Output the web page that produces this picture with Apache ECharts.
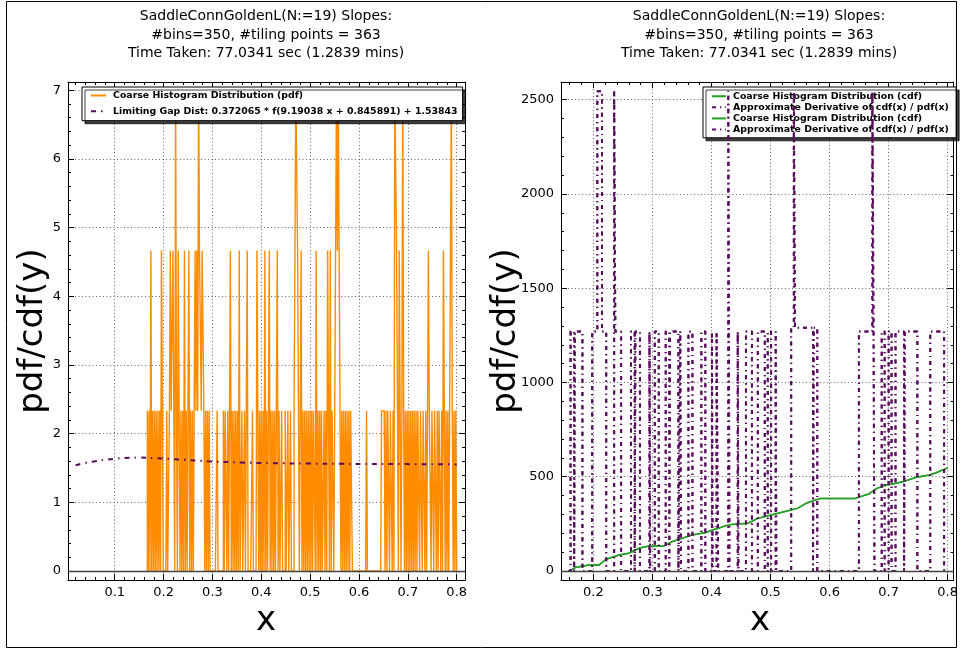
<!DOCTYPE html>
<html><head><meta charset="utf-8">
<script src="https://cdn.jsdelivr.net/npm/echarts@6/dist/echarts.min.js"></script>
<style>html,body{margin:0;padding:0;background:#fff}#c{width:961px;height:649px}</style>
</head><body><div id="c"></div>
<script>
// ---------------- DATA ----------------
const titleText = 'SaddleConnGoldenL(N:=19) Slopes:\n#bins=350, #tiling points = 363\nTime Taken: 77.0341 sec (1.2839 mins)';
// histogram (left): 350 bins between binStart and binEnd
const binStart = 0.1667, binEnd = 0.8, binCount = 350;
const pdfLevels = [0, 2.333, 4.666, 7.0];
const pdfBinLevel = [
1,0,1,0,2,0,1,0,1,0, 1,0,1,0,1,0,2,1,0,0, 0,0,1,0,0,1,2,1,1,2, 1,0,3,1,0,2,1,0,1,0,
1,0,2,0,1,0,1,2,0,1, 0,1,0,1,2,1,2,1,3,2, 2,1,2,2,1,0,1,0,1,0, 1,0,0,0,0,0,0,0,0,1,
0,0,0,0,0,0,1,0,1,1, 0,1,0,1,2,0,1,0,1,0, 1,0,1,0,2,0,0,1,0,0, 1,0,1,2,0,0,0,0,0,1,
0,0,0,0,2,1,0,1,0,1, 0,1,0,2,0,1,0,1,2,0, 1,0,1,0,1,0,1,2,0,1, 0,0,1,0,0,0,1,0,0,1,
0,0,1,0,0,0,1,2,3,3, 2,1,0,1,2,0,1,0,1,0, 1,0,1,0,1,0,1,0,1,1, 0,2,0,1,0,1,0,1,0,0,
1,0,1,0,2,1,0,2,0,1, 1,0,0,2,3,2,3,2,1,0, 1,0,1,0,1,0,1,0,1,0, 1,1,0,0,0,0,0,0,0,0,
0,0,0,0,0,0,0,0,1,0, 0,0,0,0,0,0,0,0,0,0, 0,0,0,0,0,1,1,1,1,0, 1,0,1,1,0,1,1,0,1,0,
3,3,2,1,0,2,1,0,1,3, 1,0,1,0,1,0,1,0,1,0, 1,0,1,0,1,0,1,1,0,1, 1,0,1,1,0,1,0,1,2,1,
1,0,1,1,0,1,1,0,1,0, 1,1,0,1,0,2,1,0,1,0, 1,0,1,1,3,1,0,1,0,1
];
// limiting gap distribution curve (left)
const gapX = [0.02,0.04,0.06,0.08,0.10,0.12,0.15,0.18,0.22,0.29,0.36,0.42,0.50,0.56,0.70,0.80];
const gapY = [1.54,1.575,1.60,1.62,1.635,1.645,1.652,1.645,1.63,1.60,1.58,1.571,1.565,1.561,1.557,1.553];
// cdf (right, green)
const cdfX = [0.1597,0.171,0.193,0.210,0.2213,0.2436,0.260,0.277,0.294,0.319,0.333,0.350,0.3666,0.389,0.406,0.4226,0.4337,0.4617,0.4785,0.5009,0.523,0.5456,0.5624,0.5847,0.6435,0.666,0.680,0.6966,0.7134,0.730,0.747,0.769,0.7805,0.800];
const cdfY = [0,20,32,32,62,85,94,120,132,132,155,173,191,203,221,238,247,253,279,297,314,332,362,385,385,408,438,456,465,479,497,509,521,547];
// approximate derivative (right, purple), value holds from derivX[k] to derivX[k+1]
const derivX = [0.1578,0.1614,0.1675,0.1686,0.1815,0.1980,0.2067,0.2146,0.2218,0.2352,0.2372,0.2470,0.2638,0.2700,0.2712,0.2789,0.2950,0.2962,0.3040,0.3107,0.3225,0.3286,0.3298,0.3440,0.3472,0.3484,0.3610,0.3678,0.3829,0.3896,0.4008,0.4020,0.4086,0.4114,0.4285,0.4305,0.4445,0.4457,0.4584,0.4685,0.4785,0.4903,0.4953,0.5010,0.5087,0.5099,0.5350,0.5395,0.5415,0.5720,0.5732,0.5792,0.6497,0.6725,0.6745,0.6760,0.6883,0.6933,0.7000,0.7050,0.7117,0.7262,0.7274,0.7487,0.7705,0.7940,0.8000];
const derivY = [0,1270,0,1270,0,1270,2545,1270,0,2545,1270,0,1270,0,1270,0,1270,0,1270,0,1270,0,1270,0,1270,0,1270,0,1270,0,1270,0,1270,0,2545,0,1270,0,1270,0,1270,0,1270,0,1270,0,1290,2545,1290,0,1290,0,1270,2545,1270,0,1270,0,1270,0,1270,0,1270,0,1270,0,0];
// axis ticks
const leftXTicks = [0.1,0.2,0.3,0.4,0.5,0.6,0.7,0.8];
const leftYTicks = [0,1,2,3,4,5,6,7];
const rightXTicks = [0.2,0.3,0.4,0.5,0.6,0.7,0.8];
const rightYTicks = [0,500,1000,1500,2000,2500];
const names = {
  pdf: 'Coarse Histogram Distribution (pdf)',
  gap: 'Limiting Gap Dist: 0.372065 * f(9.19038 x + 0.845891) + 1.53843',
  cdf: 'Coarse Histogram Distribution (cdf)',
  der: 'Approximate Derivative of cdf(x) / pdf(x)'
};

// ---------------- BUILD ----------------
const FONT = '"DejaVu Sans", "Liberation Sans", sans-serif';
const binW = (binEnd - binStart) / binCount;
const pdfData = [[binStart, 0]];
for (let i = 0; i < binCount; i++) pdfData.push([binStart + i * binW, pdfLevels[pdfBinLevel[i]]]);
pdfData.push([binEnd, pdfLevels[pdfBinLevel[binCount - 1]]]);
pdfData.push([binEnd, 0]);
const gapData = gapX.map((x, i) => [x, gapY[i]]);
const cdfData = cdfX.map((x, i) => [x, cdfY[i]]);
const derData = derivX.map((x, i) => [x, derivY[i]]);

function minorList(min, max, step) {
  const out = [];
  const s = Math.ceil(min / step - 1e-9);
  for (let k = s; k * step <= max + 1e-9; k++) out.push(+(k * step).toFixed(6));
  return out;
}
const lims = {
  L: {x: [0.0043, 0.817], y: [-0.13, 7.12]},
  R: {x: [0.1452, 0.8101], y: [-48, 2594]}
};
function makeAxes(dim, grid, lim, major, minorStep) {
  const minor = minorList(lim[0], lim[1], minorStep);
  const pos = dim === 'x' ? ['bottom', 'top'] : ['left', 'right'];
  const base = {gridIndex: grid, type: 'value', min: lim[0], max: lim[1], scale: true};
  const out = [];
  out.push(Object.assign({}, base, {
    position: pos[0],
    axisLine: {show: true, onZero: false, lineStyle: {color: '#000', width: 1}},
    axisTick: {show: true, inside: true, length: 6, customValues: major, lineStyle: {color: '#000', width: 1}},
    axisLabel: {show: true, customValues: major, fontFamily: FONT, fontSize: 13, color: '#000',
      margin: dim === 'x' ? 6 : 7, formatter: v => String(v)},
    splitLine: {show: true, lineStyle: {color: '#666', width: 1, type: [1, 2.5]}}
  }));
  out.push(Object.assign({}, base, {
    position: pos[0],
    axisLine: {show: false, onZero: false},
    axisTick: {show: true, inside: true, length: 3, customValues: minor, lineStyle: {color: '#000', width: 1}},
    axisLabel: {show: false}, splitLine: {show: false}
  }));
  out.push(Object.assign({}, base, {
    position: pos[1],
    axisLine: {show: true, onZero: false, lineStyle: {color: '#000', width: 1}},
    axisTick: {show: true, inside: true, length: 6, customValues: major, lineStyle: {color: '#000', width: 1}},
    axisLabel: {show: false}, splitLine: {show: false}
  }));
  out.push(Object.assign({}, base, {
    position: pos[1],
    axisLine: {show: false, onZero: false},
    axisTick: {show: true, inside: true, length: 3, customValues: minor, lineStyle: {color: '#000', width: 1}},
    axisLabel: {show: false}, splitLine: {show: false}
  }));
  return out;
}
const xAxes = [].concat(
  makeAxes('x', 0, lims.L.x, leftXTicks, 0.02),
  makeAxes('x', 1, lims.R.x, rightXTicks, 0.02));
const yAxes = [].concat(
  makeAxes('y', 0, lims.L.y, leftYTicks, 0.2),
  makeAxes('y', 1, lims.R.y, rightYTicks, 100));

const PURPLE = '#5a0c5e', ORANGE = '#ff8c00', GREEN = '#22a022';
const CLEAR = 'rgba(0,0,0,0)';
const zeroLine = {silent: true, symbol: 'none', label: {show: false}, animation: false,
  lineStyle: {color: '#444', width: 1.3, type: 'solid'}, data: [{yAxis: 0}]};

const legendCommon = {
  orient: 'vertical', backgroundColor: '#fff', borderColor: '#000', borderWidth: 1, borderRadius: 0,
  shadowColor: 'rgba(0,0,0,0.75)', shadowOffsetX: 3, shadowOffsetY: 3, shadowBlur: 0,
  selectedMode: false,
  itemStyle: {color: CLEAR, borderColor: CLEAR, borderWidth: 0}
};

const option = {
  animation: false,
  backgroundColor: '#fff',
  title: [
    {text: titleText, left: 266, top: 7.5, textAlign: 'center', padding: 0,
     textStyle: {fontFamily: FONT, fontSize: 14, fontWeight: 'normal', color: '#000', lineHeight: 18.3}},
    {text: titleText, left: 759, top: 7.5, textAlign: 'center', padding: 0,
     textStyle: {fontFamily: FONT, fontSize: 14, fontWeight: 'normal', color: '#000', lineHeight: 18.3}}
  ],
  grid: [
    {left: 68, top: 82, width: 397, height: 498, containLabel: false},
    {left: 561, top: 82, width: 396, height: 498, containLabel: false}
  ],
  xAxis: xAxes,
  yAxis: yAxes,
  legend: [
    Object.assign({}, legendCommon, {
      left: 82, top: 87, padding: [3, 5, 4, 8], itemGap: 4.7, itemWidth: 15, itemHeight: 11,
      data: [names.pdf, names.gap],
      textStyle: {fontFamily: FONT, fontSize: 9.4, fontWeight: 'bold', color: '#000', lineHeight: 11, padding: [0, 0, 0, 2]}
    }),
    Object.assign({}, legendCommon, {
      left: 703, top: 87, padding: [4, 4, 3, 8], itemGap: 0.6, itemWidth: 14, itemHeight: 10.5,
      data: [names.cdf, names.der, names.cdf + ' ', names.der + ' '],
      textStyle: {fontFamily: FONT, fontSize: 9.4, fontWeight: 'bold', color: '#000', lineHeight: 10.5, padding: [0, 0, 0, 2]}
    })
  ],
  graphic: [
    {type: 'rect', shape: {x: 6.5, y: 1.5, width: 950, height: 646}, style: {fill: 'none', stroke: '#000', lineWidth: 1}, silent: true, z: 100},
    {type: 'text', x: 33, y: 331, rotation: Math.PI / 2, silent: true,
     style: {text: 'pdf/cdf(y)', font: '34px ' + FONT, fill: '#000', textAlign: 'center', textVerticalAlign: 'middle', align: 'center', verticalAlign: 'middle'}},
    {type: 'text', x: 506, y: 331, rotation: Math.PI / 2, silent: true,
     style: {text: 'pdf/cdf(y)', font: '34px ' + FONT, fill: '#000', textAlign: 'center', textVerticalAlign: 'middle', align: 'center', verticalAlign: 'middle'}},
    {type: 'text', x: 266, y: 621, silent: true,
     style: {text: 'x', font: '34px ' + FONT, fill: '#000', textAlign: 'center', textVerticalAlign: 'middle', align: 'center', verticalAlign: 'middle'}},
    {type: 'text', x: 760, y: 621, silent: true,
     style: {text: 'x', font: '34px ' + FONT, fill: '#000', textAlign: 'center', textVerticalAlign: 'middle', align: 'center', verticalAlign: 'middle'}}
  ],
  series: [
    {name: names.pdf, type: 'line', xAxisIndex: 0, yAxisIndex: 0, data: pdfData, step: 'end',
     symbol: 'none', showSymbol: false, lineStyle: {color: ORANGE, width: 1.4}, itemStyle: {color: ORANGE},
     markLine: zeroLine, z: 3},
    {name: names.gap, type: 'line', xAxisIndex: 0, yAxisIndex: 0, data: gapData, smooth: true,
     symbol: 'none', showSymbol: false, lineStyle: {color: PURPLE, width: 2, type: [5, 5, 1.5, 5]}, itemStyle: {color: PURPLE}, z: 4},
    {name: names.cdf, type: 'line', xAxisIndex: 4, yAxisIndex: 4, data: cdfData,
     symbol: 'none', showSymbol: false, lineStyle: {color: GREEN, width: 1.5}, itemStyle: {color: GREEN},
     markLine: zeroLine, z: 3},
    {name: names.der, type: 'line', xAxisIndex: 4, yAxisIndex: 4, data: derData, step: 'end',
     symbol: 'none', showSymbol: false, lineStyle: {color: PURPLE, width: 2, type: [4, 4, 1.2, 4]}, itemStyle: {color: PURPLE}, z: 4},
    {name: names.cdf + ' ', type: 'line', xAxisIndex: 4, yAxisIndex: 4, data: cdfData,
     symbol: 'none', showSymbol: false, lineStyle: {color: GREEN, width: 1.5}, itemStyle: {color: GREEN}, z: 3},
    {name: names.der + ' ', type: 'line', xAxisIndex: 4, yAxisIndex: 4, data: derData, step: 'end',
     symbol: 'none', showSymbol: false, lineStyle: {color: PURPLE, width: 2, type: [4, 4, 1.2, 4]}, itemStyle: {color: PURPLE}, z: 4}
  ]
};
const chart = echarts.init(document.getElementById('c'), null, {renderer: 'canvas'});
chart.setOption(option);
</script>
</body></html>
